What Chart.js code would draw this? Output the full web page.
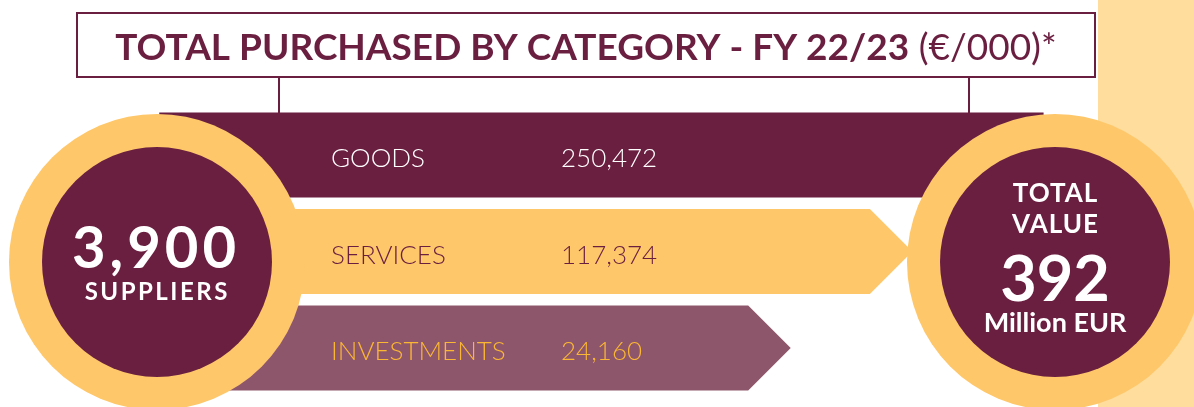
<!DOCTYPE html>
<html>
<head>
<meta charset="utf-8">
<script src="https://cdn.jsdelivr.net/npm/chart.js@4.4.0/dist/chart.umd.min.js"></script>
<style>
  html, body { margin: 0; padding: 0; background: #ffffff; }
  #wrap { position: relative; width: 1194px; height: 407px; }
</style>
</head>
<body>
<div id="wrap"><canvas id="purchaseChart"></canvas></div>
<script>
(() => {
    // data (€/000)
    const categories = ['GOODS', 'SERVICES', 'INVESTMENTS'];
    const purchased = [250472, 117374, 24160];
    const suppliers = 3900;
    const totalMillion = 392;
    const titleBold = 'TOTAL PURCHASED BY CATEGORY - FY 22/23';
    const titleUnit = ' (€/000)*';

    const maroon = '#6B1F40';
    const gold = '#FEC76A';
    const mauve = '#8E566A';
    const pale = '#FFDD9D';
    const goldText = '#FBB634';

    const barColors = [maroon, gold, mauve];
    const labelColors = ['#FFFFFF', maroon, goldText];
    const fmt = n => n.toLocaleString('en-US');

    const ctx = document.getElementById('purchaseChart').getContext('2d');

    const backdrop = {
        id: 'backdrop',
        beforeDraw(chart) {
            const c = chart.ctx;
            c.save();
            c.fillStyle = '#ffffff';
            c.fillRect(0, 0, chart.width, chart.height);
            c.fillStyle = pale;
            c.fillRect(1098, 0, chart.width - 1098, chart.height);
            c.restore();
        }
    };

    // bars drawn as ribbons / arrows from the bar elements
    const arrows = {
        id: 'arrows',
        afterDatasetsDraw(chart) {
            const c = chart.ctx;
            const meta = chart.getDatasetMeta(0);
            c.save();
            meta.data.forEach((bar, i) => {
                const top = bar.y - bar.height / 2;
                const bottom = bar.y + bar.height / 2;
                const tip = i === 0 ? 0 : bar.height / 2;
                c.beginPath();
                c.moveTo(bar.base, top);
                c.lineTo(bar.x, top);
                c.lineTo(bar.x + tip, bar.y);
                c.lineTo(bar.x, bottom);
                c.lineTo(bar.base, bottom);
                c.closePath();
                c.fillStyle = barColors[i];
                c.fill();

                c.fillStyle = labelColors[i];
                c.font = '300 26px Lato';
                c.textAlign = 'left';
                c.textBaseline = 'alphabetic';
                c.fillText(categories[i], 331, bar.y + 12);
                c.fillText(fmt(purchased[i]), 561, bar.y + 12);
            });
            c.restore();
        }
    };

    const circle = (c, x, y) => {
        c.fillStyle = gold;
        c.beginPath();
        c.arc(x, y, 148, 0, Math.PI * 2);
        c.fill();
        c.fillStyle = maroon;
        c.beginPath();
        c.arc(x, y, 115, 0, Math.PI * 2);
        c.fill();
    };

    const spaced = (c, text, x, y, gap) => {
        c.letterSpacing = gap + 'px';
        c.fillText(text, x + gap / 2, y);
        c.letterSpacing = '0px';
    };

    const frame = {
        id: 'frame',
        afterDraw(chart) {
            const c = chart.ctx;
            c.save();
            // title box and connectors
            c.strokeStyle = maroon;
            c.lineWidth = 2;
            c.strokeRect(77, 13, 1018, 64);
            c.beginPath();
            c.moveTo(279, 77); c.lineTo(279, 113);
            c.moveTo(969, 77); c.lineTo(969, 113);
            c.stroke();

            c.fillStyle = maroon;
            c.textBaseline = 'alphabetic';
            c.textAlign = 'left';
            c.font = '700 37px Lato';
            const wb = c.measureText(titleBold).width;
            c.font = '400 37px Lato';
            const wu = c.measureText(titleUnit).width;
            let x = 586 - (wb + wu) / 2;
            c.font = '700 37px Lato';
            c.fillText(titleBold, x, 60);
            c.font = '400 37px Lato';
            c.fillText(titleUnit, x + wb, 60);

            // medallions
            circle(c, 157, 262);
            circle(c, 1055, 262);

            c.fillStyle = '#ffffff';
            c.textAlign = 'center';
            c.font = '700 58px Lato';
            spaced(c, fmt(suppliers), 154, 268, 4);
            c.font = '700 24px Lato';
            spaced(c, 'SUPPLIERS', 156, 300, 2.5);

            c.font = '700 26px Lato';
            spaced(c, 'TOTAL', 1055, 202, 1);
            spaced(c, 'VALUE', 1055, 233, 1);
            c.font = '700 63px Lato';
            c.fillText(String(totalMillion), 1055, 301);
            c.font = '700 27px Lato';
            c.fillText('Million EUR', 1055, 332);
            c.restore();
        }
    };

    new Chart(ctx, {
        type: 'bar',
        data: {
            labels: categories,
            datasets: [{
                data: purchased,
                base: -427000,
                barThickness: 85,
                backgroundColor: 'rgba(0,0,0,0)'
            }]
        },
        options: {
            indexAxis: 'y',
            responsive: true,
            maintainAspectRatio: false,
            animation: false,
            layout: { padding: { top: 106.75, bottom: 10.75, left: 0, right: 0 } },
            scales: {
                x: { type: 'linear', display: false, min: -549000, max: 365700 },
                y: { display: false, offset: true }
            },
            plugins: {
                legend: { display: false },
                tooltip: { enabled: false }
            }
        },
        plugins: [backdrop, arrows, frame]
    });
})()
</script>
</body>
</html>
